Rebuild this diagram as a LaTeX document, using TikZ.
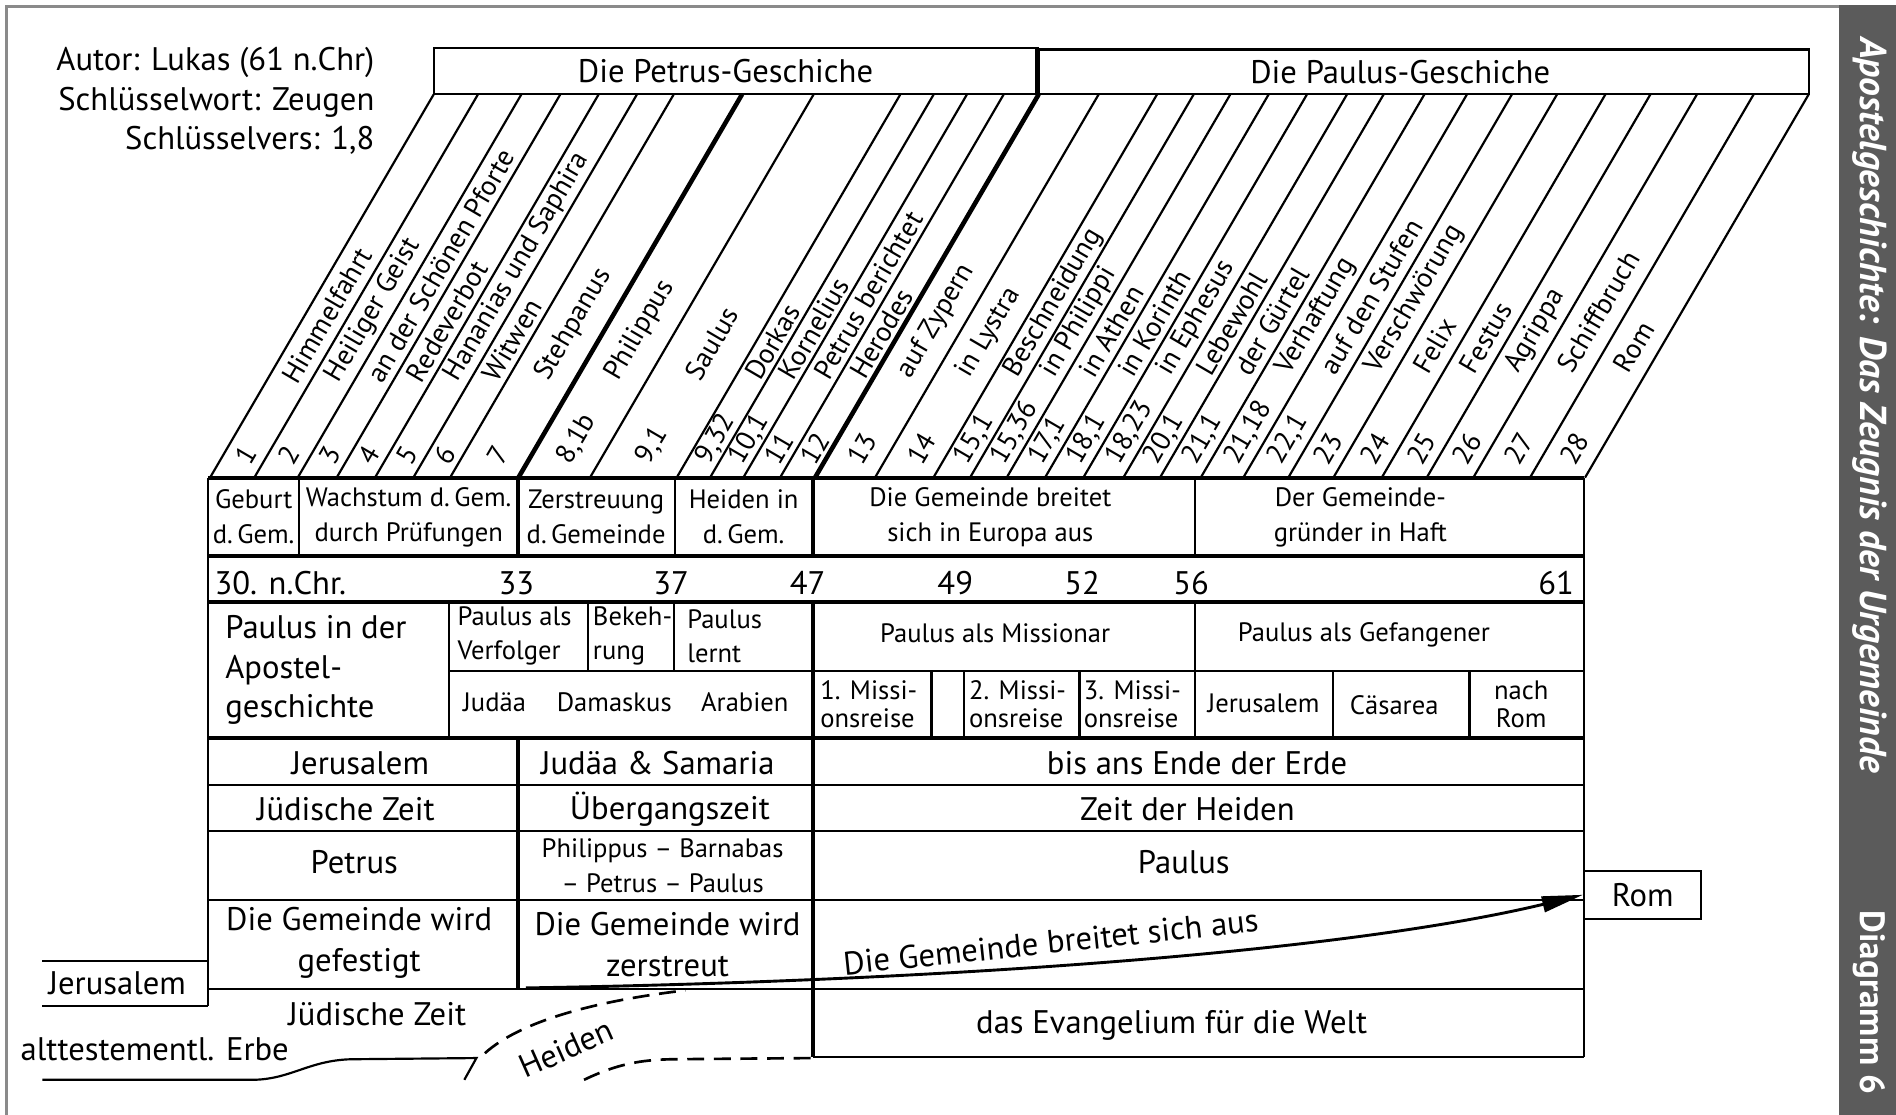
\documentclass[tikz,border=0pt]{standalone}
\usepackage{fontspec}
\setmainfont{PT Sans}
\usetikzlibrary{arrows.meta}
\definecolor{framegray}{HTML}{8A8A8A}
\definecolor{bargray}{HTML}{5B5B5B}
\begin{document}
\begin{tikzpicture}[x=0.5pt,y=-0.5pt,
  ln/.style={line width=0.9pt},
  lnthick/.style={line width=1.9pt},
  lnsep/.style={line width=1.6pt},
  big/.style={font=\fontsize{13.5}{17}\selectfont, inner sep=0pt, align=center},
  sm/.style={font=\fontsize{11}{14.5}\selectfont, inner sep=0pt, align=center},
  tiny/.style={font=\fontsize{11}{11.5}\selectfont, inner sep=0pt, align=left, anchor=west},
  slant/.style={font=\fontsize{11.5}{13}\selectfont, inner sep=0pt, anchor=west, rotate=59.7},
  dashst/.style={line width=1.1pt, dash pattern=on 7pt off 4pt},
  arrowst/.style={line width=1.2pt, -{Triangle[length=17pt,width=6.5pt]}},
  bartxt/.style={font=\fontsize{15.5}{17}\selectfont\bfseries, text=white, inner sep=0pt, rotate=-90}
]
\useasboundingbox (0,0) rectangle (1568,922);
\fill[white] (0,0) rectangle (1568,922);
% frame and side bar
\draw[framegray, line width=1.5pt] (5.5,922) -- (5.5,5.5) -- (1521,5.5);
\fill[bargray] (1521,4) rectangle (1568,922);
\node[bartxt] (bartitle) at (1546,335) {\itshape Apostelgeschichte: Das Zeugnis der Urgemeinde};
\node[bartxt, font=\fontsize{14.5}{16}\selectfont\bfseries] (bardiag) at (1546,829) {Diagramm 6};

% top-left info
\node[big, anchor=east] (autor) at (310,52) {Autor: Lukas (61 n.Chr)};
\node[big, anchor=east] (wort) at (310,85) {Schlüsselwort: Zeugen};
\node[big, anchor=east] (vers) at (310,116) {Schlüsselvers: 1,8};

% header boxes
\draw[ln] (358.7,40) rectangle (858,78);
\draw[ln] (858,41) rectangle (1496,78);
\draw[lnthick] (858,40) -- (858,78);
\node[big] (petrusg) at (600,59) {Die Petrus-Geschiche};
\node[big] (paulusg) at (1158,60) {Die Paulus-Geschiche};

% slanted strips
\foreach \b in {173.7,210.3,246.2,278.4,310.1,341.8,372.2,487.9,559.6,587.2,614.7,645.1,723.6,771.9,802.2,832.5,864.2,895.9,929.0,959.3,993.0,1028.2,1065.4,1102.7,1142.7,1179.9,1218.4,1265.3,1310.8}
  \draw[ln] ({\b+185},78) -- (\b,395);
\draw[lnthick] (613.7,78) -- (428.7,395);
\draw[lnthick] (859,78) -- (674,395);

\foreach \c/\n/\t [count=\i from 0] in {
  192.0/1/Himmelfahrt,
  228.25/2/Heiliger Geist,
  262.3/3/an der Schönen Pforte,
  294.25/4/Redeverbot,
  325.95/5/Hananias und Saphira,
  357.0/6/Witwen,
  400.45/7/Stehpanus,
  458.3/{8,1b}/Philippus,
  523.75/{9,1}/Saulus,
  573.4/{9,32}/Dorkas,
  600.95/{10,1}/Kornelius,
  629.9/11/Petrus berichtet,
  659.55/12/Herodes,
  698.8/13/auf Zypern,
  747.75/14/in Lystra,
  787.05/{15,1}/Beschneidung,
  817.35/{15,36}/in Philippi,
  848.35/{17,1}/in Athen,
  880.05/{18,1}/in Korinth,
  912.45/{18,23}/in Ephesus,
  944.15/{20,1}/Lebewohl,
  976.15/{21,1}/der Gürtel,
  1010.6/{21,18}/Verhaftung,
  1046.8/{22,1}/auf den Stufen,
  1084.05/23/Verschwörung,
  1122.7/24/Felix,
  1161.3/25/Festus,
  1199.15/26/Agrippa,
  1241.85/27/Schiffbruch,
  1288.05/28/Rom} {
  \node[slant] (num\i) at ({\c+0.5836*13},382) {\n};
  \pgfmathsetmacro\ys{315-0.31*\i}
  \node[slant] (lab\i) at ({\c+0.5836*(395-\ys)},\ys) {\t};
}

% table lines
\draw[ln] (172,395) -- (172,832);
\draw[ln] (1310,395) -- (1310,874);
\draw[lnsep] (172,395) -- (1310,395);
\draw[lnsep] (172,460) -- (1310,460);
\draw[lnsep] (172,497.5) -- (1310,497.5);
\draw[ln] (371.5,555) -- (1310,555);
\draw[lnsep] (172,610) -- (1310,610);
\draw[ln] (172,649) -- (1310,649);
\draw[ln] (172,687) -- (1310,687);
\draw[ln] (172,744) -- (1310,744);
\draw[ln] (172,818) -- (1310,818);
\draw[ln] (672.5,874) -- (1310,874);
\draw[ln] (247.6,395) -- (247.6,460);
\draw[lnthick] (428.5,395) -- (428.5,460);
\draw[ln] (558,395) -- (558,460);
\draw[lnthick] (672.5,395) -- (672.5,460);
\draw[ln] (988.5,395) -- (988.5,460);
\draw[ln] (371.5,497.5) -- (371.5,610);
\draw[ln] (486.3,497.5) -- (486.3,555);
\draw[ln] (557.1,497.5) -- (557.1,555);
\draw[lnthick] (672.5,497.5) -- (672.5,874);
\draw[ln] (988.5,497.5) -- (988.5,610);
\draw[ln] (770.4,555) -- (770.4,610);
\draw[ln] (797.5,555) -- (797.5,610);
\draw[ln] (892.8,555) -- (892.8,610);
\draw[ln] (1102.5,555) -- (1102.5,610);
\draw[ln] (1215.2,555) -- (1215.2,610);
\draw[lnthick] (428.5,610) -- (428.5,818);

% row 1
\node[sm] (geburt) at (209.8,427.5) {Geburt\\d.\,Gem.};
\node[sm] (wachstum) at (338,427.5) {Wachstum d.\,Gem.\\durch Prüfungen};
\node[sm] (zerstr) at (493,427.5) {Zerstreuung\\d.\,Gemeinde};
\node[sm] (heidenin) at (615,427.5) {Heiden in\\d.\,Gem.};
\node[sm] (europa) at (819,427.5) {Die Gemeinde breitet\\sich in Europa aus};
\node[sm] (haft) at (1125,427.5) {Der Gemeinde-\\gründer in Haft};

% years
\node[big, anchor=west] (y30) at (177,482) {30. n.Chr.};
\node[big] (y33) at (427,482) {33};
\node[big] (y37) at (555,482) {37};
\node[big] (y47) at (668,482) {47};
\node[big] (y49) at (790,482) {49};
\node[big] (y52) at (895,482) {52};
\node[big] (y56) at (985,482) {56};
\node[big] (y61) at (1287,482) {61};

% Paulus rows
\node[big, anchor=west, align=left, font=\fontsize{13.5}{16.3}\selectfont] (pinder) at (186,554) {Paulus in der\\Apostel-\\geschichte};
\node[sm, anchor=west, align=left, font=\fontsize{11}{14}\selectfont] (verfolger) at (378,526) {Paulus als\\Verfolger};
\node[sm, anchor=west, align=left, font=\fontsize{11}{14}\selectfont] (bekehrung) at (490,526) {Bekeh-\\rung};
\node[sm, anchor=west, align=left, font=\fontsize{11}{14}\selectfont] (lernt) at (568,526) {Paulus\\lernt};
\node[sm] (missionar) at (823,524) {Paulus als Missionar};
\node[sm] (gefangener) at (1128,525) {Paulus als Gefangener};
\node[sm] (judaea) at (409,581) {Judäa};
\node[sm] (damaskus) at (508,581) {Damaskus};
\node[sm] (arabien) at (616,581) {Arabien};
\node[tiny] (mr1) at (678,582.5) {1. Missi-\\onsreise};
\node[tiny] (mr2) at (801,582.5) {2. Missi-\\onsreise};
\node[tiny] (mr3) at (896,582.5) {3. Missi-\\onsreise};
\node[sm] (jerus2) at (1045,582) {Jerusalem};
\node[sm] (caesarea) at (1153,583) {Cäsarea};
\node[sm, font=\fontsize{11}{11.5}\selectfont] (nachrom) at (1258,582.5) {nach\\Rom};

% lower rows
\node[big] (jerus1) at (298,631) {Jerusalem};
\node[big] (judsam) at (544,631) {Judäa \& Samaria};
\node[big] (ende) at (990,631) {bis ans Ende der Erde};
\node[big] (judzeit) at (286,669) {Jüdische Zeit};
\node[big] (uebergang) at (554,669) {Übergangszeit};
\node[big] (zeitheiden) at (982,669) {Zeit der Heiden};
\node[big] (petrus) at (293,713) {Petrus};
\node[sm] (philippus) at (548,716) {Philippus – Barnabas\\– Petrus – Paulus};
\node[big] (paulus) at (979,713) {Paulus};
\node[big] (gefestigt) at (297,780) {Die Gemeinde wird\\gefestigt};
\node[big] (zerstreut) at (552,781) {Die Gemeinde wird\\zerstreut};
\node[big] (evangelium) at (969,848) {das Evangelium für die Welt};

% bottom-left
\draw[ln] (35,795) -- (172,795);
\draw[ln] (35,832) -- (172,832);
\node[big] (jerusbox) at (97,813) {Jerusalem};
\node[big] (judzeit2) at (312,839) {Jüdische Zeit};
\node[big] (erbe) at (128,868) {alttestementl. Erbe};
\draw[ln] (35,893) -- (208,893) .. controls (240,893) and (255,877) .. (290,876) -- (394,875) -- (384,893);
\node[big, rotate=24] (heiden) at (468,867) {Heiden};

% Rom and arrow
\node[big, draw, line width=0.9pt, minimum width=48.5pt, minimum height=20pt] (rom) at (1358.5,740) {Rom};
\coordinate (arrstart) at (435,817);
\draw[arrowst] (arrstart) .. controls (750,812) and (1100,790) .. (rom.west);
\node[big, rotate=6] (spread) at (869,779) {Die Gemeinde breitet sich aus};
\coordinate (hstart) at (401,871);
\coordinate (hjoin) at (567,819);
\draw[dashst] (hstart) .. controls (430,845) and (490,828) .. (hjoin);
\coordinate (hlow) at (483,893);
\coordinate (hend) at (672.5,875);
\draw[dashst] (hlow) .. controls (510,880) and (530,876.5) .. (555,876) -- (hend);
\end{tikzpicture}
\end{document}
